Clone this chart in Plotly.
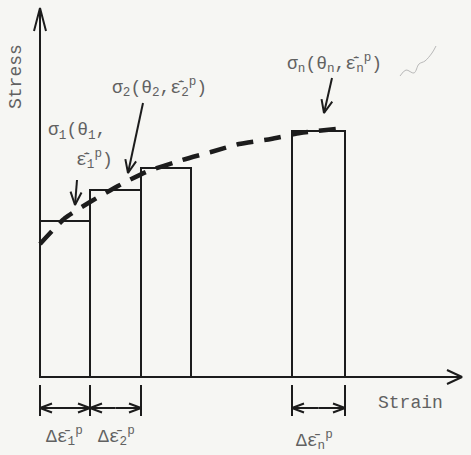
import numpy as np
import plotly.graph_objects as go

# Strain increments: left/right edges of each stress block, and block heights
block_names = ["1", "2", "3", "n"]
block_left = [0.0, 5.0, 10.1, 25.2]
block_right = [5.0, 10.1, 15.1, 30.5]
block_stress = [15.6, 18.7, 20.9, 24.6]

# Flow-stress curve drawn through the block tops
curve_strain = [0.0, 2.5, 5.0, 7.8, 10.6, 14.2, 17.1, 19.9, 23.1, 26.0, 30.5]
curve_stress = [13.3, 15.9, 17.5, 19.1, 20.5, 21.7, 22.5, 23.3, 23.8, 24.4, 24.9]

INK = "#1c1c1c"
TEXT = "#616161"
FONT = "Liberation Mono"
EPS = "\u03b5\u0304\u0307"   # epsilon with bar and dot
EPSB = "\u03b5\u0304"        # epsilon with bar

fig = go.Figure()

# stress blocks
centers = [(a + b) / 2 for a, b in zip(block_left, block_right)]
widths = [b - a for a, b in zip(block_left, block_right)]
fig.add_trace(go.Bar(
    x=centers, y=block_stress, width=widths, base=0,
    marker=dict(color="rgba(0,0,0,0)", line=dict(color=INK, width=2)),
    hoverinfo="skip", showlegend=False,
))

# dashed stress-strain curve
fig.add_trace(go.Scatter(
    x=curve_strain, y=curve_stress, mode="lines",
    line=dict(color=INK, width=4.5, dash="17px,11px", shape="spline", smoothing=0.5),
    hoverinfo="skip", showlegend=False,
))


def head(tx, ty, dx, dy, length=1.3, half=0.55):
    """Open V arrowhead at (tx, ty) pointing along (dx, dy)."""
    n = np.hypot(dx, dy)
    ux, uy = dx / n, dy / n
    px, py = -uy, ux
    bx, by = tx - ux * length, ty - uy * length
    return ([bx + px * half, tx, bx - px * half, None],
            [by + py * half, ty, by - py * half, None])


xs, ys = [], []


def arrow(x0, y0, x1, y1, **kw):
    xs.extend([x0, x1, None])
    ys.extend([y0, y1, None])
    hx, hy = head(x1, y1, x1 - x0, y1 - y0, **kw)
    xs.extend(hx)
    ys.extend(hy)


# axes
arrow(0, 0, 0, 36.9, length=2.3, half=0.6)
arrow(0, 0, 42.2, 0, length=1.5, half=0.7)

# pointer arrows to the labelled stresses
arrow(3.7, 19.7, 3.5, 17.2)
arrow(10.3, 27.4, 8.8, 20.4)
arrow(29.2, 29.9, 28.4, 26.4)

# dimension arrows for the strain increments
dim_y = -3.1
for i in [0, 1, 3]:
    a, b = block_left[i], block_right[i]
    for e in (a, b):
        xs.extend([e, e, None])
        ys.extend([-0.8, -3.9, None])
    mid = (a + b) / 2
    arrow(mid, dim_y, a, dim_y, length=1.2, half=0.45)
    arrow(mid, dim_y, b, dim_y, length=1.2, half=0.45)

fig.add_trace(go.Scatter(
    x=xs, y=ys, mode="lines", line=dict(color=INK, width=2),
    hoverinfo="skip", showlegend=False,
))

# faint pen squiggle next to the last label
fig.add_trace(go.Scatter(
    x=[36.0, 36.6, 37.4, 37.9, 38.5, 39.2, 39.6],
    y=[30.1, 30.7, 30.4, 31.3, 31.6, 32.4, 33.1],
    mode="lines", line=dict(color="#b8b8b8", width=1, shape="spline"),
    hoverinfo="skip", showlegend=False,
))

labels = [
    (-2.4, 30.0, "Stress", -90, "center"),
    (0.6, 24.6, "\u03c3<sub>1</sub>(\u03b8<sub>1</sub>,", 0, "left"),
    (3.4, 21.8, EPS + "<sub>1</sub><sup>p</sup>)", 0, "left"),
    (7.0, 29.0, "\u03c3<sub>2</sub>(\u03b8<sub>2</sub>," + EPS + "<sub>2</sub><sup>p</sup>)", 0, "left"),
    (24.5, 31.4, "\u03c3<sub>n</sub>(\u03b8<sub>n</sub>," + EPS + "<sub>n</sub><sup>p</sup>)", 0, "left"),
    (33.6, -2.6, "Strain", 0, "left"),
    (0.4, -5.9, "\u0394" + EPSB + "<sub>1</sub><sup>p</sup>", 0, "left"),
    (5.6, -5.9, "\u0394" + EPSB + "<sub>2</sub><sup>p</sup>", 0, "left"),
    (25.4, -6.3, "\u0394" + EPSB + "<sub>n</sub><sup>p</sup>", 0, "left"),
]
for x, y, t, ang, anchor in labels:
    fig.add_annotation(x=x, y=y, text=t, showarrow=False, textangle=ang,
                       xanchor=anchor, yanchor="middle",
                       font=dict(family=FONT, size=18, color=TEXT))

fig.update_layout(
    width=471, height=455,
    margin=dict(l=0, r=0, t=0, b=0),
    paper_bgcolor="#f6f6f3", plot_bgcolor="#f6f6f3",
    xaxis=dict(range=[-4.0, 43.1], visible=False, fixedrange=True),
    yaxis=dict(range=[-7.8, 37.7], visible=False, fixedrange=True),
    showlegend=False,
)

fig.write_html("out.html")
